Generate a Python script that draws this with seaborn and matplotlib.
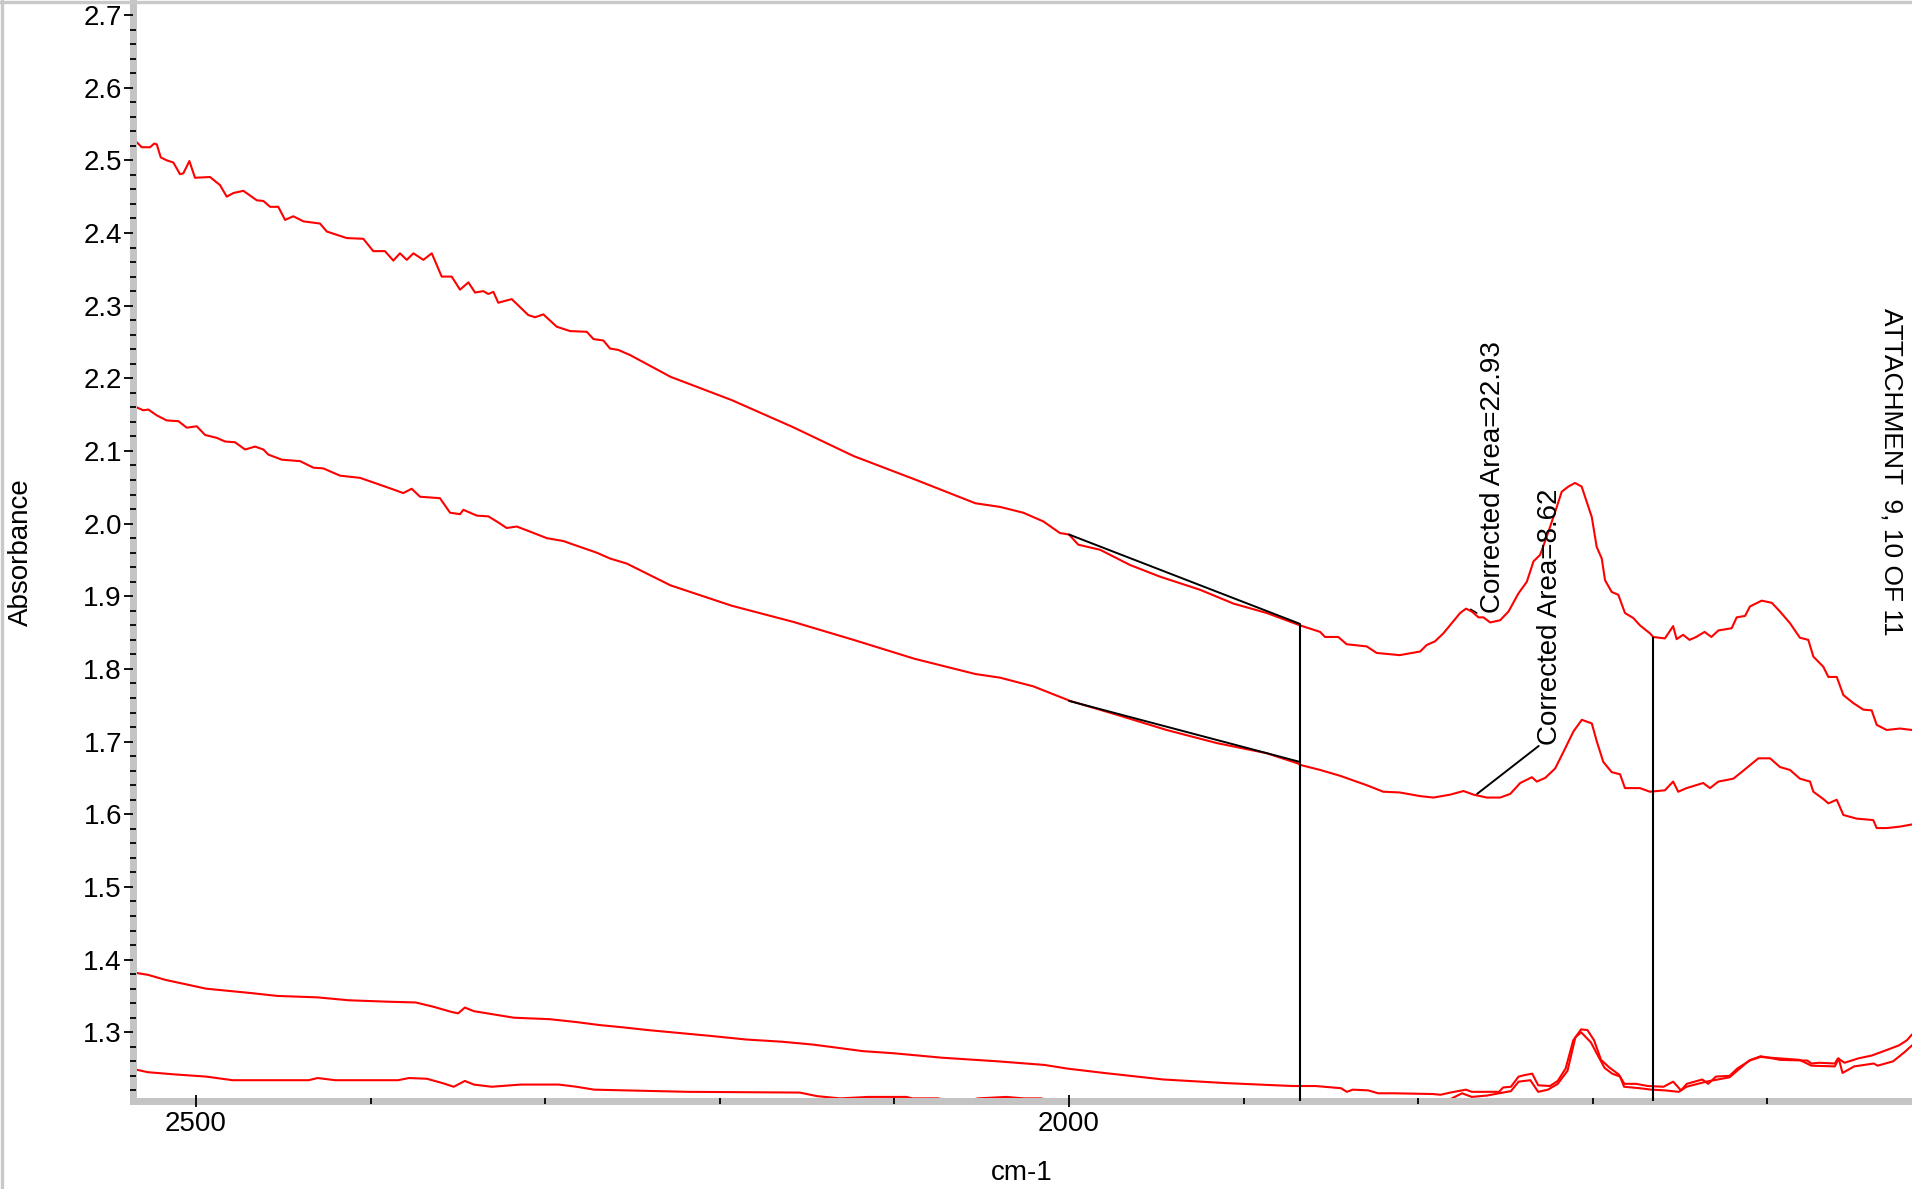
import matplotlib
matplotlib.use('Agg')
import matplotlib.pyplot as plt
import seaborn as sns
import pandas as pd
from matplotlib.ticker import MultipleLocator
from matplotlib.lines import Line2D

# ---------------- data (wavenumber cm-1, absorbance) ----------------
curve_a = [(2534.4, 2.526), (2531.1, 2.518), (2526.3, 2.518), (2524.0, 2.523), (2522.5, 2.522),
           (2520.2, 2.504), (2516.8, 2.500), (2513.0, 2.497), (2509.2, 2.481), (2507.3, 2.482),
           (2503.8, 2.499), (2500.6, 2.476), (2492.0, 2.477), (2486.3, 2.466), (2482.4, 2.450),
           (2478.6, 2.455), (2472.9, 2.458), (2465.2, 2.445), (2461.4, 2.444), (2457.6, 2.436),
           (2452.9, 2.436), (2449.0, 2.418), (2444.3, 2.423), (2438.5, 2.416), (2429.0, 2.413),
           (2425.1, 2.402), (2413.7, 2.393), (2404.2, 2.392), (2398.5, 2.375), (2391.8, 2.375),
           (2387.0, 2.362), (2383.2, 2.372), (2379.3, 2.363), (2375.5, 2.372), (2369.8, 2.363),
           (2365.0, 2.372), (2359.3, 2.340), (2353.6, 2.340), (2348.8, 2.322), (2344.0, 2.332),
           (2340.2, 2.318), (2335.5, 2.320), (2332.6, 2.316), (2329.7, 2.319), (2326.9, 2.304),
           (2319.2, 2.309), (2309.7, 2.287), (2305.8, 2.284), (2301.1, 2.288), (2293.4, 2.271),
           (2285.8, 2.265), (2276.2, 2.264), (2272.4, 2.254), (2266.7, 2.252), (2262.9, 2.241),
           (2258.1, 2.239), (2251.4, 2.232), (2228.2, 2.202), (2193.2, 2.170), (2158.3, 2.133),
           (2123.4, 2.093), (2088.5, 2.061), (2053.6, 2.028), (2039.5, 2.023), (2026.2, 2.015),
           (2014.7, 2.003), (2005.2, 1.987), (2000.0, 1.985), (1994.7, 1.971), (1982.2, 1.964),
           (1965.0, 1.943), (1947.9, 1.927), (1925.0, 1.909), (1905.9, 1.890), (1886.8, 1.877),
           (1867.7, 1.860), (1856.2, 1.851), (1853.4, 1.844), (1845.8, 1.844), (1841.0, 1.834),
           (1829.5, 1.831), (1823.8, 1.822), (1810.6, 1.819), (1798.9, 1.824), (1795.1, 1.833),
           (1790.4, 1.838), (1785.6, 1.849), (1780.8, 1.863), (1776.0, 1.877), (1772.6, 1.883),
           (1769.3, 1.879), (1765.5, 1.871), (1762.7, 1.871), (1758.8, 1.864), (1753.1, 1.867),
           (1748.3, 1.879), (1742.6, 1.904), (1737.8, 1.920), (1734.0, 1.948), (1730.2, 1.957),
           (1726.4, 1.982), (1721.6, 2.016), (1717.8, 2.044), (1714.0, 2.051), (1710.2, 2.056),
           (1706.4, 2.051), (1703.5, 2.030), (1700.6, 2.009), (1697.8, 1.968), (1694.9, 1.952),
           (1693.0, 1.922), (1689.2, 1.906), (1685.4, 1.902), (1681.6, 1.877), (1676.8, 1.870),
           (1673.0, 1.860), (1667.3, 1.849), (1665.4, 1.844), (1658.7, 1.842), (1654.0, 1.859),
           (1652.0, 1.841), (1648.3, 1.847), (1644.6, 1.840), (1640.8, 1.844), (1636.0, 1.851),
           (1632.1, 1.844), (1628.1, 1.853), (1620.5, 1.856), (1617.6, 1.871), (1612.8, 1.873),
           (1610.0, 1.886), (1603.3, 1.894), (1597.5, 1.891), (1592.8, 1.879), (1587.1, 1.863),
           (1581.4, 1.843), (1576.6, 1.840), (1573.7, 1.817), (1568.0, 1.803), (1565.1, 1.789),
           (1560.3, 1.789), (1556.5, 1.764), (1550.8, 1.753), (1545.1, 1.744), (1540.3, 1.743),
           (1537.4, 1.723), (1531.7, 1.716), (1524.1, 1.718), (1517.2, 1.716)]

curve_b = [(2535.0, 2.161), (2530.2, 2.156), (2527.3, 2.157), (2522.5, 2.149), (2516.8, 2.142),
           (2510.1, 2.141), (2505.3, 2.132), (2499.6, 2.134), (2494.8, 2.122), (2488.1, 2.118),
           (2483.4, 2.113), (2477.7, 2.112), (2471.9, 2.102), (2466.2, 2.106), (2461.4, 2.102),
           (2458.6, 2.095), (2450.9, 2.088), (2440.4, 2.086), (2432.8, 2.077), (2427.1, 2.076),
           (2417.5, 2.066), (2406.1, 2.063), (2396.5, 2.055), (2387.0, 2.047), (2381.3, 2.042),
           (2376.5, 2.048), (2371.7, 2.037), (2360.3, 2.035), (2354.5, 2.015), (2348.8, 2.013),
           (2346.9, 2.019), (2339.2, 2.011), (2332.6, 2.010), (2327.8, 2.003), (2322.1, 1.994),
           (2316.3, 1.996), (2308.7, 1.989), (2299.1, 1.980), (2289.6, 1.976), (2280.1, 1.968),
           (2270.5, 1.960), (2262.9, 1.952), (2253.3, 1.945), (2228.2, 1.915), (2193.2, 1.887),
           (2158.3, 1.865), (2123.4, 1.840), (2088.5, 1.814), (2053.6, 1.793), (2039.5, 1.788),
           (2020.4, 1.776), (1999.4, 1.756), (1972.7, 1.737), (1944.1, 1.716), (1915.4, 1.698),
           (1886.8, 1.684), (1869.0, 1.670), (1867.7, 1.668), (1856.2, 1.661), (1844.8, 1.653),
           (1829.5, 1.640), (1820.0, 1.631), (1810.6, 1.630), (1798.9, 1.625), (1791.3, 1.623),
           (1781.7, 1.627), (1774.1, 1.632), (1768.3, 1.627), (1760.7, 1.623), (1753.1, 1.623),
           (1747.3, 1.628), (1741.6, 1.643), (1734.9, 1.651), (1732.1, 1.645), (1727.3, 1.650),
           (1721.6, 1.663), (1716.8, 1.686), (1711.1, 1.714), (1706.3, 1.730), (1700.6, 1.725),
           (1697.7, 1.700), (1694.0, 1.672), (1689.2, 1.658), (1684.4, 1.655), (1681.6, 1.636),
           (1673.0, 1.636), (1667.3, 1.631), (1658.7, 1.633), (1654.0, 1.645), (1651.1, 1.631),
           (1646.3, 1.636), (1636.8, 1.643), (1632.9, 1.636), (1628.1, 1.645), (1619.5, 1.649),
           (1613.8, 1.660), (1605.2, 1.677), (1598.5, 1.677), (1592.8, 1.665), (1587.1, 1.661),
           (1581.4, 1.649), (1575.6, 1.645), (1573.7, 1.631), (1568.0, 1.621), (1565.1, 1.615),
           (1560.3, 1.620), (1556.5, 1.599), (1548.9, 1.594), (1539.4, 1.592), (1537.4, 1.581),
           (1531.7, 1.581), (1524.1, 1.583), (1517.2, 1.586)]

curve_c = [(2535.2, 1.382), (2527.5, 1.379), (2517.4, 1.372), (2505.8, 1.366), (2494.3, 1.360),
           (2481.6, 1.357), (2468.8, 1.354), (2453.4, 1.350), (2430.4, 1.348), (2412.5, 1.344),
           (2389.5, 1.342), (2374.2, 1.341), (2363.9, 1.335), (2353.7, 1.328), (2349.9, 1.326),
           (2346.0, 1.334), (2340.9, 1.329), (2328.1, 1.324), (2317.9, 1.320), (2297.5, 1.318),
           (2282.1, 1.314), (2269.3, 1.310), (2256.5, 1.307), (2241.2, 1.303), (2223.3, 1.299),
           (2205.4, 1.295), (2184.9, 1.290), (2164.5, 1.287), (2146.6, 1.283), (2136.9, 1.280),
           (2118.0, 1.274), (2100.0, 1.271), (2073.0, 1.265), (2041.0, 1.260), (2014.0, 1.255),
           (2001.0, 1.250), (1980.0, 1.244), (1946.0, 1.235), (1910.0, 1.230), (1872.0, 1.226),
           (1858.8, 1.226), (1844.2, 1.223), (1840.9, 1.218), (1837.5, 1.221), (1828.6, 1.220),
           (1823.0, 1.216), (1814.0, 1.216), (1791.7, 1.215), (1787.2, 1.214), (1781.6, 1.217),
           (1774.9, 1.220), (1772.7, 1.221), (1769.3, 1.218), (1753.7, 1.218), (1751.4, 1.224),
           (1746.9, 1.225), (1742.5, 1.239), (1739.1, 1.241), (1734.7, 1.243), (1731.3, 1.227),
           (1724.6, 1.226), (1720.1, 1.233), (1715.6, 1.250), (1711.2, 1.289), (1706.7, 1.304),
           (1703.1, 1.303), (1699.3, 1.289), (1695.3, 1.262), (1690.8, 1.252), (1685.2, 1.242),
           (1681.9, 1.229), (1675.2, 1.229), (1668.5, 1.226), (1659.5, 1.225), (1654.0, 1.232),
           (1649.5, 1.220), (1646.2, 1.229), (1637.3, 1.235), (1633.9, 1.229), (1629.5, 1.239),
           (1621.7, 1.240), (1617.3, 1.250), (1609.5, 1.262), (1603.9, 1.267), (1592.7, 1.262),
           (1577.1, 1.261), (1574.8, 1.257), (1570.4, 1.258), (1561.4, 1.257), (1559.6, 1.264),
           (1555.8, 1.258), (1548.0, 1.264), (1540.2, 1.268), (1532.3, 1.275), (1524.6, 1.282),
           (1520.1, 1.289), (1517.2, 1.297)]

curve_d = [(2535.2, 1.249), (2527.5, 1.245), (2512.3, 1.242), (2494.3, 1.239), (2479.0, 1.234),
           (2461.1, 1.234), (2435.5, 1.234), (2430.4, 1.237), (2420.2, 1.234), (2384.4, 1.234),
           (2378.0, 1.237), (2367.8, 1.236), (2358.8, 1.230), (2352.4, 1.225), (2346.0, 1.233),
           (2340.9, 1.228), (2330.7, 1.225), (2314.1, 1.228), (2292.3, 1.228), (2282.1, 1.225),
           (2271.9, 1.221), (2218.2, 1.218), (2154.3, 1.217), (2144.1, 1.212), (2131.0, 1.209),
           (2115.0, 1.211), (2093.0, 1.211), (2090.0, 1.209), (2075.0, 1.209), (2063.0, 1.203),
           (2052.0, 1.209), (2036.0, 1.211), (2026.0, 1.209), (2016.0, 1.209), (2005.0, 1.202),
           (1900.0, 1.201), (1800.0, 1.202), (1785.0, 1.206), (1781.6, 1.208), (1774.9, 1.216),
           (1769.3, 1.211), (1760.3, 1.213), (1753.7, 1.216), (1746.9, 1.219), (1742.5, 1.232),
           (1735.8, 1.234), (1731.3, 1.218), (1725.7, 1.221), (1720.1, 1.229), (1714.5, 1.247),
           (1710.0, 1.293), (1706.7, 1.300), (1701.1, 1.286), (1697.8, 1.271), (1693.3, 1.251),
           (1688.9, 1.243), (1684.4, 1.239), (1682.1, 1.225), (1673.2, 1.223), (1666.5, 1.221),
           (1658.6, 1.220), (1650.8, 1.218), (1646.3, 1.225), (1635.1, 1.232), (1621.7, 1.238),
           (1610.5, 1.261), (1603.9, 1.266), (1592.7, 1.264), (1581.6, 1.262), (1574.8, 1.254),
           (1561.4, 1.253), (1559.2, 1.264), (1557.0, 1.244), (1550.3, 1.253), (1539.1, 1.257),
           (1536.9, 1.254), (1528.0, 1.260), (1521.3, 1.273), (1517.2, 1.282)]

# baseline segments used for "Corrected Area" integration
baseline_w = [2000.0, 1867.7]
baseline_top_v = [1.985, 1.862]
baseline_mid_v = [1.756, 1.672]
limit_w = [1867.7, 1665.4]
limit_top_v = [1.862, 1.844]

area_labels = ["Corrected Area=22.93", "Corrected Area=8.62"]
title_text = "ATTACHMENT  9, 10 OF 11"
x_label = "cm-1"
y_label = "Absorbance"

# ---------------- figure ----------------
sns.set_theme(style='white')
plt.rcParams['font.family'] = ['Liberation Sans', 'DejaVu Sans']

W, H = 1912, 1189
fig = plt.figure(figsize=(W / 100, H / 100), dpi=100)
fig.patch.set_facecolor('white')
ax_left, ax_bottom_px, ax_top_px = 133, 1100.7, 3
ax = fig.add_axes([ax_left / W, 1 - ax_bottom_px / H, 1 - ax_left / W, (ax_bottom_px - ax_top_px) / H])
ax.set_facecolor('white')

frames = []
for name, pts in [('a', curve_a), ('b', curve_b), ('c', curve_c), ('d', curve_d)]:
    df = pd.DataFrame(pts, columns=['wavenumber', 'absorbance'])
    df['series'] = name
    frames.append(df)
data = pd.concat(frames, ignore_index=True)

sns.lineplot(data=data, x='wavenumber', y='absorbance', units='series', estimator=None,
             sort=False, color='#ff0000', linewidth=1.5, ax=ax, legend=False, zorder=2.1)

YMIN, YMAX = 1.2058, 2.7165
ax.set_xlim(2536.1, 1517.2)
ax.set_ylim(YMIN, YMAX)

# baseline lines and integration limits
sns.lineplot(x=baseline_w, y=baseline_top_v, color='black', linewidth=1.4, ax=ax, sort=False, zorder=2.3)
sns.lineplot(x=baseline_w, y=baseline_mid_v, color='black', linewidth=1.4, ax=ax, sort=False, zorder=2.3)
ax.vlines(limit_w, YMIN - 0.01, limit_top_v, colors='black', linewidth=1.5, zorder=2.3)

# annotations
ax.text(1757.0, 1.877, area_labels[0], rotation=90, ha='center', va='bottom', fontsize=20, color='black')
ax.plot([1770.0, 1766.5], [1.882, 1.877], color='black', lw=1.2)
ax.text(1724.3, 1.695, area_labels[1], rotation=90, ha='center', va='bottom', fontsize=20, color='black')
ax.plot([1731.0, 1766.3], [1.694, 1.628], color='black', lw=1.4)

fig.text(1891.3 / W, 1 - 308.3 / H, title_text, rotation=270, ha='center', va='top',
         fontsize=19, color='black')
fig.text(21 / W, 1 - 552 / H, y_label, rotation=90, ha='center', va='center', fontsize=20, color='black')
fig.text(1022 / W, 1 - 1173 / H, x_label, ha='center', va='center', fontsize=20, color='black')

# axes styling
ax.grid(False)
for side in ['top', 'right']:
    ax.spines[side].set_visible(False)
for side in ['left', 'bottom']:
    ax.spines[side].set_color('#c4c4c4')
    ax.spines[side].set_linewidth(5)
    ax.spines[side].set_zorder(2.2)
ax.set_axisbelow(False)

ax.yaxis.set_major_locator(MultipleLocator(0.1))
ax.yaxis.set_minor_locator(MultipleLocator(0.02))
ax.xaxis.set_major_locator(MultipleLocator(500))
ax.xaxis.set_minor_locator(MultipleLocator(100))
ax.yaxis.set_major_formatter(matplotlib.ticker.FormatStrFormatter('%.1f'))
ax.xaxis.set_major_formatter(matplotlib.ticker.FormatStrFormatter('%d'))

ax.tick_params(axis='y', which='major', direction='out', length=6.5, width=1.3, color='black',
               pad=1.5, labelsize=20, labelcolor='black', left=True)
ax.tick_params(axis='y', which='minor', direction='inout', length=4.3, width=1.3, color='black', left=True)
ax.tick_params(axis='x', which='major', direction='inout', length=8, width=1.3, color='black',
               pad=3.4, labelsize=20, labelcolor='black', bottom=True)
ax.tick_params(axis='x', which='minor', direction='inout', length=4.5, width=1.3, color='black', bottom=True)
ax.set_xlabel('')
ax.set_ylabel('')

# figure frame (top and left light grey border)
fig.add_artist(Line2D([0, 1], [1 - 1.6 / H, 1 - 1.6 / H], transform=fig.transFigure,
                      color='#c8c8c8', linewidth=2.4))
fig.add_artist(Line2D([1.6 / W, 1.6 / W], [0, 1], transform=fig.transFigure,
                      color='#c8c8c8', linewidth=2.4))

fig.savefig('out.png', dpi=100, facecolor='white')
